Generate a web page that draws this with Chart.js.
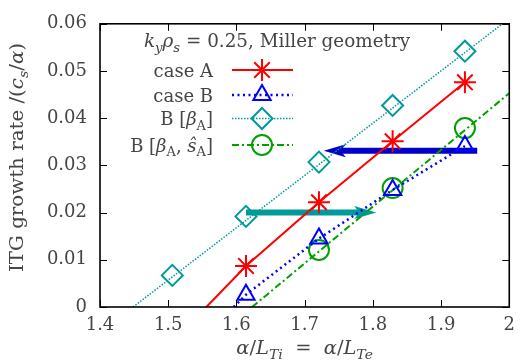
<!DOCTYPE html>
<html><head><meta charset="utf-8">
<script src="https://cdn.jsdelivr.net/npm/chart.js@4/dist/chart.umd.min.js"></script>
<style>html,body{margin:0;padding:0;background:#fff;}#wrap{width:523px;height:364px;}</style>
</head><body><div id="wrap"><canvas id="c" width="523" height="364"></canvas></div>
<script>
// ITG growth-rate scans versus alpha/L_T (ions and electrons together)
const caseA_x = [1.556, 1.614, 1.721, 1.829, 1.935];
const caseA_y = [0, 0.0087, 0.0222, 0.0351, 0.0476];
const caseB_x = [1.596, 1.614, 1.721, 1.829, 1.935];
const caseB_y = [0, 0.0026, 0.0145, 0.0248, 0.0341];
const betaA_x = [1.506, 1.614, 1.721, 1.829, 1.935];
const betaA_y = [0.0067, 0.0192, 0.0307, 0.0427, 0.0542];
const betaA_fit_x = [1.4485, 1.99];
const betaA_fit_y = [0, 0.06];
const betaShat_x = [1.721, 1.829, 1.935];
const betaShat_y = [0.0121, 0.0252, 0.0379];
const betaShat_fit_x = [1.623, 2.0];
const betaShat_fit_y = [0, 0.0453];
const xTickLabels = ['1.4', '1.5', '1.6', '1.7', '1.8', '1.9', '2'];
const yTickLabels = ['0', '0.01', '0.02', '0.03', '0.04', '0.05', '0.06'];
// horizontal shift arrows: [xFrom, yFrom, xTo, yTo]
const arrowShift = [1.953, 0.0331, 1.728, 0.0331];
const arrowBeta = [1.614, 0.0200, 1.805, 0.0200];

const FONT = '"DejaVu Serif", serif';
const TEXT = '#454545';
const RED = '#ff0000', BLUE = '#0000ff', CYAN = '#009a9a', GREEN = '#00a000';

const pts = (xs, ys) => xs.map((x, i) => ({x: x, y: ys[i]}));
const onsetRadius = (xs, r) => xs.map((_, i) => i === 0 ? 0 : r);

const series = [
  {label: 'case A', data: pts(caseA_x, caseA_y), color: RED, width: 2, dash: [], style: 'star', radii: onsetRadius(caseA_x, 11), line: true},
  {label: 'case B', data: pts(caseB_x, caseB_y), color: BLUE, width: 2.5, dash: [2, 3.5], style: 'triangle', radii: onsetRadius(caseB_x, 10), line: true},
  {label: 'B [βA] fit', data: pts(betaA_fit_x, betaA_fit_y), color: CYAN, width: 1.5, dash: [1.5, 1.5], style: 'rectRot', radii: 0, line: true},
  {label: 'B [βA]', data: pts(betaA_x, betaA_y), color: CYAN, width: 2, dash: [], style: 'rectRot', radii: 10.5, line: false},
  {label: 'B [βA, ŝA] fit', data: pts(betaShat_fit_x, betaShat_fit_y), color: GREEN, width: 2, dash: [7, 3, 2, 3], style: 'circle', radii: 0, line: true},
  {label: 'B [βA, ŝA]', data: pts(betaShat_x, betaShat_y), color: GREEN, width: 2, dash: [], style: 'circle', radii: 10, line: false}
];

// legend rows: rich-text label, line style and marker
const legendRows = [
  {runs: [{t: 'case A'}], color: RED, width: 2, dash: [], style: 'star', r: 11},
  {runs: [{t: 'case B'}], color: BLUE, width: 2.5, dash: [2, 3.5], style: 'triangle', r: 10},
  {runs: [{t: 'B ['}, {t: 'β', i: 1}, {t: 'A', sub: 1}, {t: ']'}], color: CYAN, width: 1.5, dash: [1.5, 1.5], style: 'rectRot', r: 10.5},
  {runs: [{t: 'B ['}, {t: 'β', i: 1}, {t: 'A', sub: 1}, {t: ', '}, {t: 'ŝ', i: 1}, {t: 'A', sub: 1}, {t: ']'}], color: GREEN, width: 2, dash: [7, 3, 2, 3], style: 'circle', r: 10}
];
const legendTitle = [{t: 'k', i: 1}, {t: 'y', i: 1, sub: 1}, {t: 'ρ', i: 1}, {t: 's', i: 1, sub: 1}, {t: ' = 0.25, Miller geometry'}];
const yTitle = [{t: 'ITG growth rate /('}, {t: 'c', i: 1}, {t: 's', i: 1, sub: 1}, {t: '/'}, {t: 'α', i: 1}, {t: ')'}];
const xTitle = [{t: 'α', i: 1}, {t: '/'}, {t: 'L', i: 1}, {t: 'Ti', i: 1, sub: 1}, {t: '  =  '}, {t: 'α', i: 1}, {t: '/'}, {t: 'L', i: 1}, {t: 'Te', i: 1, sub: 1}];

function runFont(r, size) {
  return (r.i ? 'italic ' : '') + (r.sub ? Math.round(size * 0.7) : size) + 'px ' + FONT;
}
// draws a run list; sx stretches along the text direction
function drawRich(ctx, runs, x, y, size, align, sx) {
  sx = sx || 1;
  let w = 0;
  runs.forEach(r => { ctx.font = runFont(r, size); w += ctx.measureText(r.t).width; });
  ctx.save();
  ctx.translate(x, y);
  ctx.scale(sx, 1);
  let cx = align === 'center' ? -w / 2 : align === 'right' ? -w : 0;
  ctx.textAlign = 'left';
  ctx.textBaseline = 'alphabetic';
  runs.forEach(r => {
    ctx.font = runFont(r, size);
    ctx.fillText(r.t, cx, r.sub ? size * 0.25 : 0);
    cx += ctx.measureText(r.t).width;
  });
  ctx.restore();
}
function drawMarker(ctx, style, x, y, r) {
  ctx.beginPath();
  if (style === 'star') {
    for (let k = 0; k < 4; k++) {
      const a = k * Math.PI / 4;
      ctx.moveTo(x - Math.cos(a) * r, y - Math.sin(a) * r);
      ctx.lineTo(x + Math.cos(a) * r, y + Math.sin(a) * r);
    }
  } else if (style === 'triangle') {
    ctx.moveTo(x - Math.sin(Math.PI / 3) * r, y + r / 2);
    ctx.lineTo(x, y - r);
    ctx.lineTo(x + Math.sin(Math.PI / 3) * r, y + r / 2);
    ctx.closePath();
  } else if (style === 'rectRot') {
    ctx.moveTo(x - r, y); ctx.lineTo(x, y - r); ctx.lineTo(x + r, y); ctx.lineTo(x, y + r);
    ctx.closePath();
  } else {
    ctx.arc(x, y, r, 0, Math.PI * 2);
  }
  ctx.stroke();
}
function drawArrow(ctx, x0, y0, x1, y1, color) {
  const len = Math.hypot(x1 - x0, y1 - y0), ux = (x1 - x0) / len, uy = (y1 - y0) / len;
  const px = -uy, py = ux, head = 22, hw = 6.5, notch = 5, shaft = 6;
  ctx.save();
  ctx.strokeStyle = color; ctx.fillStyle = color;
  ctx.lineWidth = shaft; ctx.lineCap = 'butt';
  ctx.beginPath();
  ctx.moveTo(x0, y0);
  ctx.lineTo(x1 - ux * (head - notch), y1 - uy * (head - notch));
  ctx.stroke();
  ctx.beginPath();
  ctx.moveTo(x1, y1);
  ctx.lineTo(x1 - ux * head + px * hw, y1 - uy * head + py * hw);
  ctx.lineTo(x1 - ux * (head - notch), y1 - uy * (head - notch));
  ctx.lineTo(x1 - ux * head - px * hw, y1 - uy * head - py * hw);
  ctx.closePath();
  ctx.fill();
  ctx.restore();
}

const decor = {
  id: 'decor',
  beforeDatasetsDraw(chart) {
    const ctx = chart.ctx, xs = chart.scales.x, ys = chart.scales.y;
    [[arrowShift, '#0000c8'], [arrowBeta, CYAN]].forEach(([a, col]) => {
      drawArrow(ctx, xs.getPixelForValue(a[0]), ys.getPixelForValue(a[1]),
        xs.getPixelForValue(a[2]), ys.getPixelForValue(a[3]), col);
    });
  },
  afterDatasetsDraw(chart) {
    const ctx = chart.ctx, a = chart.chartArea, xs = chart.scales.x, ys = chart.scales.y;
    ctx.save();
    ctx.strokeStyle = '#000'; ctx.lineWidth = 1;
    const tl = 7;
    ctx.beginPath();
    xs.ticks.forEach(t => {
      const p = Math.round(xs.getPixelForValue(t.value)) + 0.5;
      ctx.moveTo(p, a.bottom); ctx.lineTo(p, a.bottom - tl);
      ctx.moveTo(p, a.top); ctx.lineTo(p, a.top + tl);
    });
    ys.ticks.forEach(t => {
      const p = Math.round(ys.getPixelForValue(t.value)) + 0.5;
      ctx.moveTo(a.left, p); ctx.lineTo(a.left + tl, p);
      ctx.moveTo(a.right, p); ctx.lineTo(a.right - tl, p);
    });
    ctx.stroke();
    ctx.lineWidth = 1.6;
    ctx.strokeRect(a.left, a.top, a.right - a.left, a.bottom - a.top);
    ctx.restore();
  },
  afterDraw(chart) {
    const ctx = chart.ctx, a = chart.chartArea;
    ctx.save();
    ctx.fillStyle = TEXT;
    drawRich(ctx, legendTitle, 277, 47, 18, 'center', 1.02);
    const rowY = [70, 95, 118.5, 145];
    legendRows.forEach((row, i) => {
      const y = rowY[i];
      ctx.fillStyle = TEXT;
      drawRich(ctx, row.runs, 213, y + 6.5, 18, 'right');
      ctx.strokeStyle = row.color; ctx.lineWidth = row.width;
      ctx.setLineDash(row.dash);
      ctx.beginPath(); ctx.moveTo(232, y); ctx.lineTo(293, y); ctx.stroke();
      ctx.setLineDash([]);
      ctx.lineWidth = 2;
      drawMarker(ctx, row.style, 262, y, row.r);
    });
    ctx.fillStyle = TEXT;
    drawRich(ctx, xTitle, (a.left + a.right) / 2, 354, 18, 'center', 1.08);
    ctx.translate(23, 157.5);
    ctx.rotate(-Math.PI / 2);
    drawRich(ctx, yTitle, 0, 0, 18, 'center', 1.1);
    ctx.restore();
  }
};

new Chart(document.getElementById('c'), {
  type: 'scatter',
  data: {
    datasets: series.map(s => ({
      label: s.label,
      data: s.data,
      showLine: s.line,
      borderColor: s.color,
      borderWidth: s.width,
      borderDash: s.dash,
      backgroundColor: 'rgba(0,0,0,0)',
      pointStyle: s.style,
      pointRadius: s.radii,
      pointBorderColor: s.color,
      pointBackgroundColor: 'rgba(0,0,0,0)',
      pointBorderWidth: 2,
      tension: 0
    }))
  },
  options: {
    responsive: false,
    animation: false,
    devicePixelRatio: 1,
    layout: {padding: {top: 16, right: 11, left: 0, bottom: 0}},
    plugins: {legend: {display: false}, tooltip: {enabled: false}},
    scales: {
      x: {
        type: 'linear', min: 1.4, max: 2,
        ticks: {stepSize: 0.1, padding: 8, color: TEXT, font: {family: FONT, size: 18},
          callback: (v, i) => xTickLabels[i]},
        grid: {display: false, drawTicks: false},
        border: {display: false},
        afterFit: s => { s.height = 57; }
      },
      y: {
        type: 'linear', min: 0, max: 0.06,
        ticks: {stepSize: 0.01, padding: 13, color: TEXT, font: {family: FONT, size: 18},
          callback: (v, i) => yTickLabels[i]},
        grid: {display: false, drawTicks: false},
        border: {display: false},
        afterFit: s => { s.width = 100; }
      }
    }
  },
  plugins: [decor]
});
</script>
</body></html>
